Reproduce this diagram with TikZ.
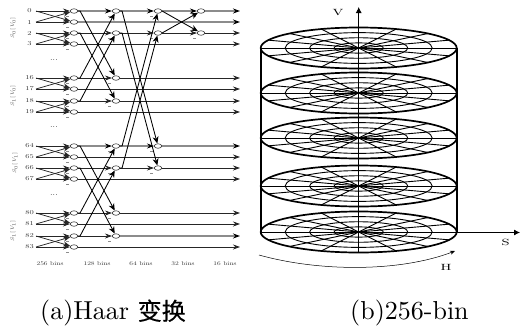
\documentclass[tikz,border=0pt]{standalone}
\usepackage{fontspec}
\newfontfamily\cjkf[FakeBold=0.4]{Noto Sans CJK SC}
\newfontfamily\capf{lmroman10-regular.otf}
\usetikzlibrary{arrows.meta,shapes.geometric}
\tikzset{
  bnode/.style={draw=black!80,ellipse,line width=0.6pt,inner sep=0pt,minimum width=7.5pt,minimum height=4.5pt,fill=white},
  rowlab/.style={font=\capf\fontsize{6}{6}\selectfont,text=black!80,inner sep=0pt,xscale=1.4},
  sidelab/.style={font=\fontsize{5}{6}\selectfont,text=black!70,rotate=90,inner sep=0pt},
  binlab/.style={font=\capf\fontsize{5.5}{6}\selectfont,text=black!80,inner sep=0pt,xscale=1.35},
  dotslab/.style={font=\capf\bfseries\fontsize{9}{9}\selectfont,inner sep=0pt},
  flow/.style={line width=0.75pt,draw=black!85,-{Stealth[length=7pt,width=5pt]}},
  pale/.style={line width=1.1pt,draw=black!45,-{Stealth[length=7pt,width=5pt,color=black]}},
  cross/.style={line width=0.85pt,draw=black,-{Stealth[length=7pt,width=6pt]}},
  tick/.style={line width=0.4pt,draw=black!45},
  rim/.style={line width=1.7pt},
  grid/.style={line width=0.9pt},
  axis/.style={line width=0.8pt,-{Latex[length=6pt,width=6pt]}},
  caplab/.style={font=\capf\fontsize{26}{30}\selectfont,inner sep=0pt},
  hsv/.style={font=\capf\fontsize{9}{10}\selectfont,inner sep=0pt,xscale=1.6}
}
\begin{document}
\begin{tikzpicture}[x=1pt,y=-1pt]
\useasboundingbox (0,0) rectangle (520,330);
% rows
\foreach \r/\y in {0/11,1/22,2/33,3/44,16/78,17/89,18/101,19/112,64/146,65/157,66/168,67/179,80/213,81/224,82/236,83/247}{
  \node[rowlab] (l\r) at (29.5,\y) {\r};
  \coordinate (s\r) at (36,\y);
  \coordinate (e\r) at (240,\y);
  \node[bnode] (p\r) at (74,\y) {};
  \draw[tick] (66,\y+5) -- (69,\y+5);
}
\foreach \r/\y in {0/11,2/33,16/78,18/101,64/146,66/168,80/213,82/236}{
  \node[bnode] (q\r) at (116,\y) {};
  \draw[tick] (108,\y+5) -- (111,\y+5);
}
\foreach \r/\y in {0/11,2/33,64/146,66/168}{
  \node[bnode] (u\r) at (158,\y) {};
  \draw[tick] (150,\y+5) -- (153,\y+5);
}
\foreach \r/\y in {0/11,2/33}{
  \node[bnode] (t\r) at (201,\y) {};
  \draw[tick] (193,\y+5) -- (196,\y+5);
}
% stage 1
\foreach \a/\b in {0/1,2/3,16/17,18/19,64/65,66/67,80/81,82/83}{
  \draw[flow] (s\a) -- (p\a);
  \draw[flow] (s\b) -- (p\b);
  \draw[flow] (s\a) -- (p\b);
  \draw[flow] (s\b) -- (p\a);
}
% untouched rows
\foreach \r in {3,17,19,65,67,81,83}{\draw[flow] (p\r) -- (e\r);}
\draw[pale] (p1) -- (e1);
% stage 2
\draw[pale] (p0) -- (q0);
\foreach \r in {2,16,18,66,80,82}{\draw[flow] (p\r) -- (q\r);}
\draw[pale] (p64) -- (q64);
\foreach \a/\b in {0/16,2/18,16/0,18/2,64/80,66/82,80/64,82/66}{
  \draw[cross] (p\a.east) -- ++(2,0) -- (q\b);
}
\foreach \r in {16,18,80}{\draw[flow] (q\r) -- (e\r);}
\draw[pale] (q82) -- (e82);
% stage 3
\draw[pale] (q0) -- (u0);
\draw[flow] (q2) -- (u2);
\draw[pale] (q64) -- (u64);
\draw[flow] (q66) -- (u66);
\foreach \a/\b in {0/64,2/66,64/0,66/2}{
  \draw[cross] (q\a.east) -- ++(2,0) -- (u\b);
}
\draw[pale] (u64) -- (e64);
\draw[flow] (u66) -- (e66);
% stage 4
\draw[pale] (u0) -- (t0);
\draw[flow] (u2) -- (t2);
\draw[cross] (u0.east) -- (t2);
\draw[cross] (u2.east) -- (t0);
\draw[pale] (t0) -- (e0);
\draw[flow] (t2) -- (e2);
% side labels
\node[sidelab] (sa) at (13,28) {$S_0[\,V_0]$};
\node[sidelab] (sb) at (13,96) {$S_1[\,V_0]$};
\node[sidelab] (sc) at (15,163) {$S_0[\,V_1]$};
\node[sidelab] (sd) at (13,231) {$S_1[\,V_1]$};
\node[dotslab] (da) at (54,60) {...};
\node[dotslab] (db) at (54,127) {...};
\node[dotslab] (dc) at (54,195) {...};
\node[binlab] (b1) at (50,264) {256 bins};
\node[binlab] (b2) at (97,264) {128 bins};
\node[binlab] (b3) at (141,264) {64 bins};
\node[binlab] (b4) at (183,264) {32 bins};
\node[binlab] (b5) at (225,264) {16 bins};
% cylinder
\def\cx{358.7}
\foreach \cy in {48,93,138,186,232}{
  \foreach \t in {0,22.5,...,157.5}{
    \draw[grid] ({\cx+98*cos(\t)},{\cy+20.5*sin(\t)}) -- ({\cx-98*cos(\t)},{\cy-20.5*sin(\t)});
  }
  \foreach \f in {0.25,0.5,0.75}{
    \draw[grid] (\cx,\cy) ellipse ({98*\f} and {20.5*\f});
  }
  \draw[rim] (\cx,\cy) ellipse (98 and 20.5);
}
\draw[line width=2pt] (261,48) -- (261,232);
\draw[line width=2pt] (457,48) -- (457,232);
\coordinate (vb) at (358.7,232);
\coordinate (vt) at (358.7,7);
\coordinate (so) at (456.7,232.5);
\coordinate (se) at (520,232.5);
\coordinate (ha) at (259,255);
\coordinate (hb) at (455,251);
\draw[axis] (vb) -- (vt);
\draw[axis] (so) -- (se);
\draw[line width=0.5pt,-{Stealth[length=5pt,width=4pt]}] (ha) .. controls (320,272) and (400,272) .. (hb);
\node[hsv] (vl) at (338,12.5) {V};
\node[hsv] (sl) at (505.5,242) {S};
\node[hsv] (hl) at (446,267.5) {H};
\node[caplab,anchor=west] (ca) at (40,313) {(a)Haar {\cjkf\fontsize{24}{28}\selectfont 变换}};
\node[caplab,anchor=west] (cb) at (350,313) {(b)256-bin};
\end{tikzpicture}
\end{document}
